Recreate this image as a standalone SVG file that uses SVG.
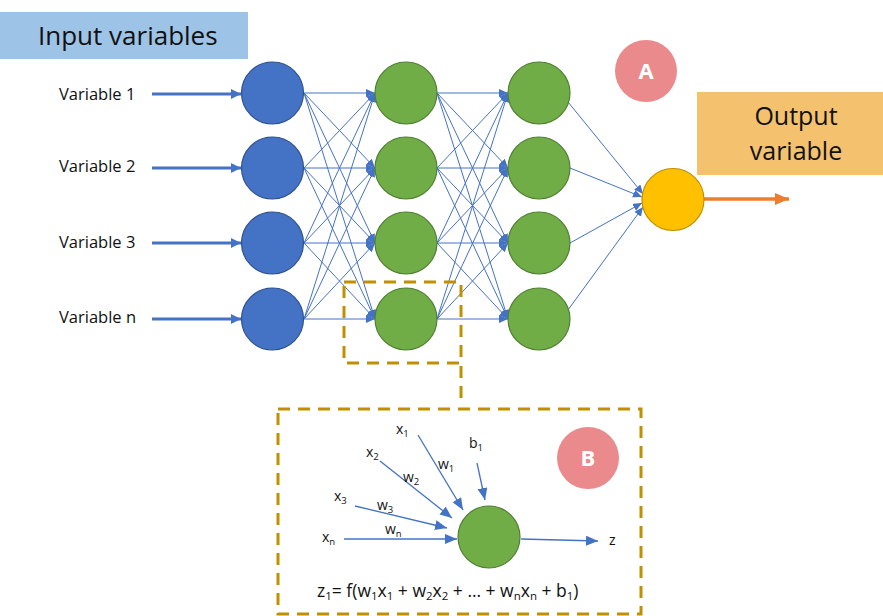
<svg xmlns="http://www.w3.org/2000/svg" width="883" height="616" viewBox="0 0 883 616">
<style>
  .lbl{font-family:"Open Sans","Liberation Sans",sans-serif;fill:#111;}
  .edge{stroke:#4472c4;stroke-width:1;fill:none;marker-end:url(#ah);}
  .inarr{stroke:#4472c4;stroke-width:3;fill:none;marker-end:url(#ahBig);}
  .barr{stroke:#4472c4;stroke-width:1.3;fill:none;marker-end:url(#ahB);}
  .inp{fill:#4472c4;stroke:#2f528f;stroke-width:1.2;}
  .hid{fill:#70ad47;stroke:#507e32;stroke-width:1.2;}
  .dash{fill:none;stroke:#bf9000;stroke-width:3;stroke-dasharray:12 8;}
  .tag{fill:#ea8a8c;}
  .tagt{font-family:"Open Sans","Liberation Sans",sans-serif;font-weight:bold;font-size:22px;fill:#fff;text-anchor:middle;}
</style>
<defs>
  <marker id="ah" markerUnits="userSpaceOnUse" markerWidth="10" markerHeight="10" refX="9" refY="4" orient="auto">
    <path d="M0,0 L9,4 L0,8 Z" fill="#4472c4"/>
  </marker>
  <marker id="ahBig" markerUnits="userSpaceOnUse" markerWidth="12" markerHeight="12" refX="10" refY="5" orient="auto">
    <path d="M0,0 L10,5 L0,10 Z" fill="#4472c4"/>
  </marker>
  <marker id="ahB" markerUnits="userSpaceOnUse" markerWidth="14" markerHeight="12" refX="12" refY="5" orient="auto">
    <path d="M0,0 L12,5 L0,10 Z" fill="#4472c4"/>
  </marker>
  <marker id="ahO" markerUnits="userSpaceOnUse" markerWidth="16" markerHeight="14" refX="14" refY="6" orient="auto">
    <path d="M0,0 L14,6 L0,12 Z" fill="#ed7d31"/>
  </marker>
</defs>
<rect width="883" height="616" fill="#ffffff"/>

<g id="input-title">
  <rect x="0" y="12" width="248" height="47" fill="#9dc3e6"/>
  <text class="lbl" x="38" y="45" font-size="26">Input variables</text>
</g>
<g id="output-title">
  <rect x="697" y="92" width="186" height="83" fill="#f4c26f"/>
  <text class="lbl" x="796" y="125" font-size="25" text-anchor="middle">Output</text>
  <text class="lbl" x="796" y="160" font-size="25" text-anchor="middle">variable</text>
</g>
<g id="tag-A"><circle class="tag" cx="646" cy="71" r="31"/><text class="tagt" x="646" y="79">A</text></g>

<g id="connectors">
  <line class="inarr" x1="152" y1="94" x2="241" y2="94"/>
  <line class="inarr" x1="152" y1="168" x2="241" y2="168"/>
  <line class="inarr" x1="152" y1="243" x2="241" y2="243"/>
  <line class="inarr" x1="152" y1="319" x2="241" y2="319"/>
  <!-- layer 1 to layer 2 -->
  <line class="edge" x1="304" y1="93" x2="375" y2="93"/>
  <line class="edge" x1="304" y1="93" x2="375" y2="168"/>
  <line class="edge" x1="304" y1="93" x2="375" y2="243"/>
  <line class="edge" x1="304" y1="93" x2="375" y2="319"/>
  <line class="edge" x1="304" y1="168" x2="375" y2="93"/>
  <line class="edge" x1="304" y1="168" x2="375" y2="168"/>
  <line class="edge" x1="304" y1="168" x2="375" y2="243"/>
  <line class="edge" x1="304" y1="168" x2="375" y2="319"/>
  <line class="edge" x1="304" y1="243" x2="375" y2="93"/>
  <line class="edge" x1="304" y1="243" x2="375" y2="168"/>
  <line class="edge" x1="304" y1="243" x2="375" y2="243"/>
  <line class="edge" x1="304" y1="243" x2="375" y2="319"/>
  <line class="edge" x1="304" y1="319" x2="375" y2="93"/>
  <line class="edge" x1="304" y1="319" x2="375" y2="168"/>
  <line class="edge" x1="304" y1="319" x2="375" y2="243"/>
  <line class="edge" x1="304" y1="319" x2="375" y2="319"/>
  <!-- layer 2 to layer 3 -->
  <line class="edge" x1="437" y1="93" x2="508" y2="93"/>
  <line class="edge" x1="437" y1="93" x2="508" y2="168"/>
  <line class="edge" x1="437" y1="93" x2="508" y2="243"/>
  <line class="edge" x1="437" y1="93" x2="508" y2="319"/>
  <line class="edge" x1="437" y1="168" x2="508" y2="93"/>
  <line class="edge" x1="437" y1="168" x2="508" y2="168"/>
  <line class="edge" x1="437" y1="168" x2="508" y2="243"/>
  <line class="edge" x1="437" y1="168" x2="508" y2="319"/>
  <line class="edge" x1="437" y1="243" x2="508" y2="93"/>
  <line class="edge" x1="437" y1="243" x2="508" y2="168"/>
  <line class="edge" x1="437" y1="243" x2="508" y2="243"/>
  <line class="edge" x1="437" y1="243" x2="508" y2="319"/>
  <line class="edge" x1="437" y1="319" x2="508" y2="93"/>
  <line class="edge" x1="437" y1="319" x2="508" y2="168"/>
  <line class="edge" x1="437" y1="319" x2="508" y2="243"/>
  <line class="edge" x1="437" y1="319" x2="508" y2="319"/>
  <!-- layer 3 to output -->
  <line class="edge" x1="568" y1="102" x2="643" y2="194"/>
  <line class="edge" x1="570" y1="168" x2="642" y2="197"/>
  <line class="edge" x1="570" y1="243" x2="642" y2="203"/>
  <line class="edge" x1="568" y1="310" x2="643" y2="207"/>
  <line x1="704" y1="199" x2="789" y2="199" stroke="#ed7d31" stroke-width="3.5" marker-end="url(#ahO)"/>
  <!-- zoom link -->
  <line class="dash" x1="461" y1="366" x2="461" y2="406"/>
  <!-- detail B arrows -->
  <line class="barr" x1="418" y1="435" x2="463" y2="510"/>
  <line class="barr" x1="380" y1="461" x2="452" y2="518"/>
  <line class="barr" x1="355" y1="506" x2="447" y2="528"/>
  <line class="barr" x1="344" y1="539" x2="457" y2="539"/>
  <line class="barr" x1="477" y1="463" x2="485" y2="500"/>
  <line class="barr" x1="521" y1="539" x2="598" y2="541"/>
</g>

<g id="input-labels">
  <text class="lbl" x="59" y="100" font-size="16.5">Variable 1</text>
  <text class="lbl" x="59" y="172" font-size="16.5">Variable 2</text>
  <text class="lbl" x="59" y="248" font-size="16.5">Variable 3</text>
  <text class="lbl" x="59" y="323" font-size="16.5">Variable n</text>
</g>

<g id="in1"><circle class="inp" cx="272.5" cy="93" r="31"/></g>
<g id="in2"><circle class="inp" cx="272.5" cy="168" r="31"/></g>
<g id="in3"><circle class="inp" cx="272.5" cy="243" r="31"/></g>
<g id="in4"><circle class="inp" cx="272.5" cy="319" r="31"/></g>
<g id="h1-1"><circle class="hid" cx="406" cy="93" r="31"/></g>
<g id="h1-2"><circle class="hid" cx="406" cy="168" r="31"/></g>
<g id="h1-3"><circle class="hid" cx="406" cy="243" r="31"/></g>
<g id="h1-4"><circle class="hid" cx="406" cy="319" r="31"/></g>
<g id="h2-1"><circle class="hid" cx="539" cy="93" r="31"/></g>
<g id="h2-2"><circle class="hid" cx="539" cy="168" r="31"/></g>
<g id="h2-3"><circle class="hid" cx="539" cy="243" r="31"/></g>
<g id="h2-4"><circle class="hid" cx="539" cy="319" r="31"/></g>
<g id="out"><circle cx="673" cy="199.5" r="31" fill="#ffc000" stroke="#bf9000" stroke-width="1.2"/></g>

<g id="zoom-box"><rect class="dash" x="344" y="282" width="117" height="81"/></g>

<g id="detail-B">
  <rect class="dash" x="278" y="409" width="363" height="205"/>
  <circle class="tag" cx="588" cy="458" r="31"/><text class="tagt" x="588" y="466">B</text>
  <circle class="hid" cx="489" cy="537" r="31"/>
  <g class="lbl" font-size="14">
    <text x="396" y="434">x<tspan font-size="9.5" dy="3">1</tspan></text>
    <text x="366" y="457">x<tspan font-size="9.5" dy="3">2</tspan></text>
    <text x="334" y="501">x<tspan font-size="9.5" dy="3">3</tspan></text>
    <text x="322" y="542">x<tspan font-size="9.5" dy="3">n</tspan></text>
    <text x="438" y="469">w<tspan font-size="9.5" dy="3">1</tspan></text>
    <text x="403" y="482">w<tspan font-size="9.5" dy="3">2</tspan></text>
    <text x="377" y="510">w<tspan font-size="9.5" dy="3">3</tspan></text>
    <text x="385" y="534">w<tspan font-size="9.5" dy="3">n</tspan></text>
    <text x="469" y="448">b<tspan font-size="9.5" dy="3">1</tspan></text>
    <text x="609" y="545">z</text>
  </g>
  <text class="lbl" x="317" y="597" font-size="17.5">z<tspan font-size="11.5" dy="3">1</tspan><tspan dy="-3">= f(w</tspan><tspan font-size="11.5" dy="3">1</tspan><tspan dy="-3">x</tspan><tspan font-size="11.5" dy="3">1</tspan><tspan dy="-3"> + w</tspan><tspan font-size="11.5" dy="3">2</tspan><tspan dy="-3">x</tspan><tspan font-size="11.5" dy="3">2</tspan><tspan dy="-3"> + … + w</tspan><tspan font-size="11.5" dy="3">n</tspan><tspan dy="-3">x</tspan><tspan font-size="11.5" dy="3">n</tspan><tspan dy="-3"> + b</tspan><tspan font-size="11.5" dy="3">1</tspan><tspan dy="-3">)</tspan></text>
</g>
</svg>
